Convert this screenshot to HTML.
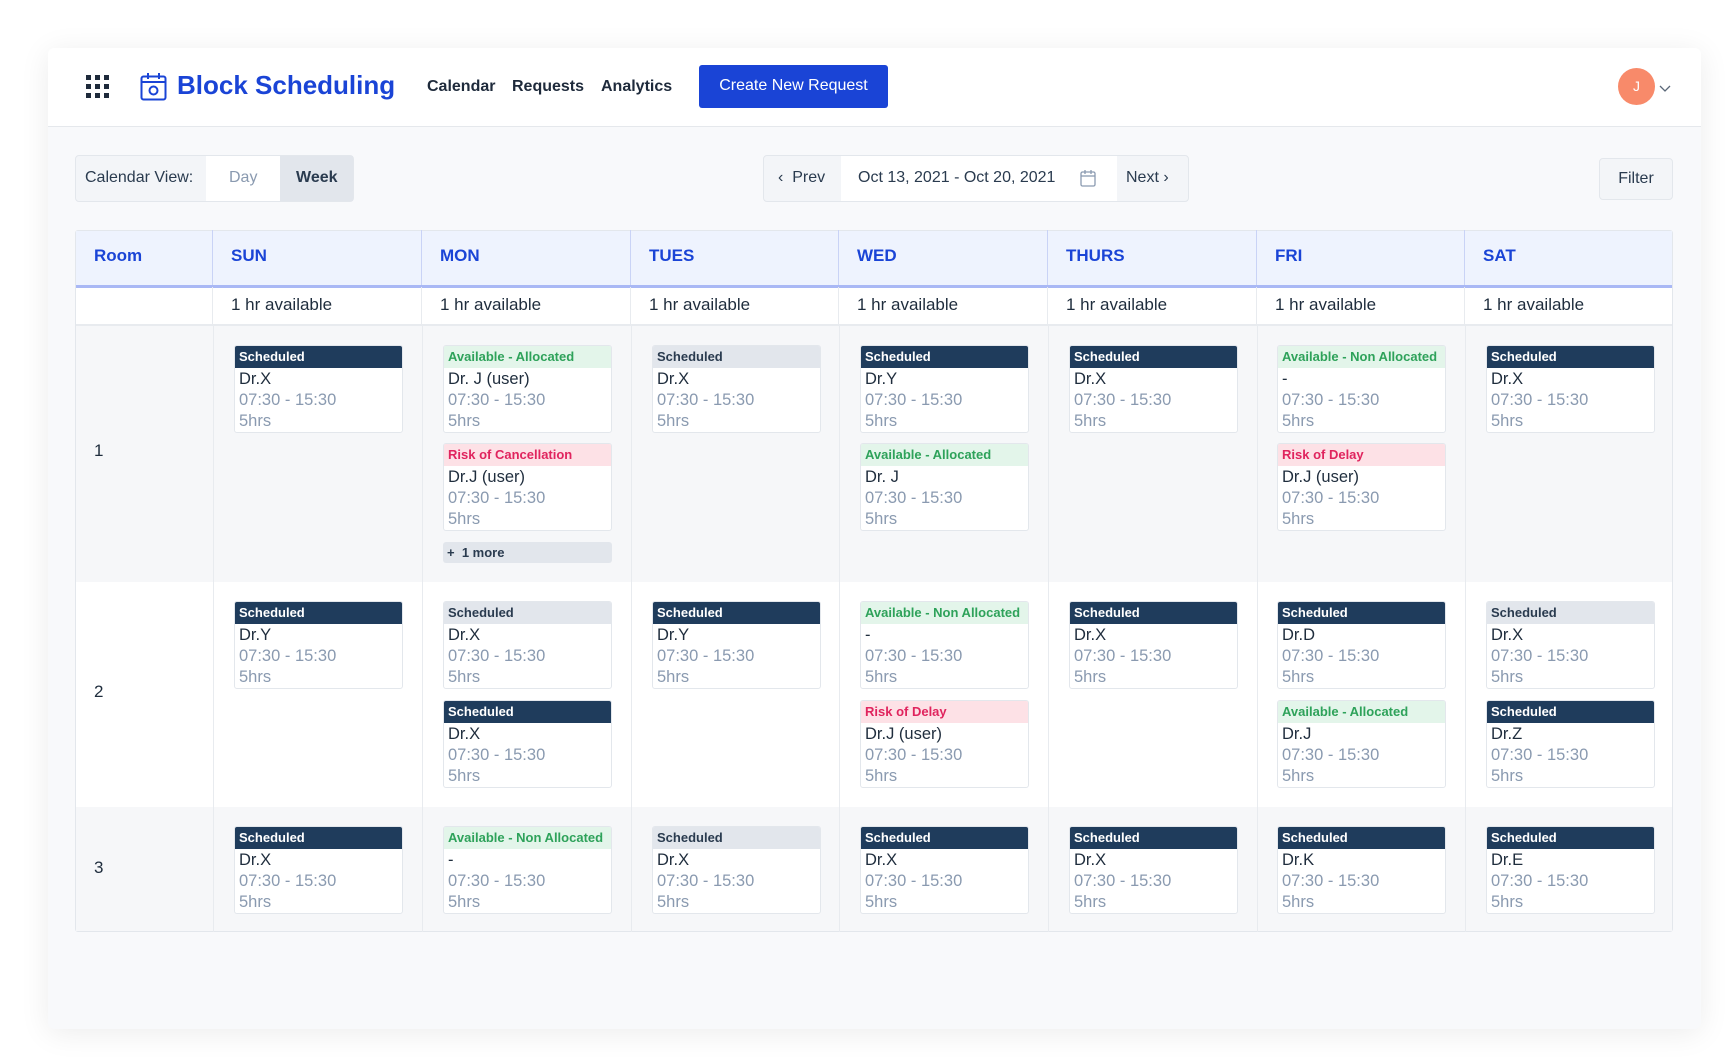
<!DOCTYPE html>
<html><head><meta charset="utf-8"><style>
*{box-sizing:border-box}
body{margin:0;width:1734px;height:1063px;background:#fff;font-family:"Liberation Sans",sans-serif;position:relative;overflow:hidden}
.a{position:absolute}
#card{left:48px;top:48px;width:1653px;height:981px;background:#f8f9fb;border-radius:6px;box-shadow:0 4px 30px rgba(0,0,0,0.08)}
#hdr{left:48px;top:48px;width:1653px;height:79px;background:#fff;border-bottom:1px solid #e5e8ec;border-radius:6px 6px 0 0}
.nav{font-size:16px;font-weight:bold;color:#1e2a3b;top:78px}
.c{position:absolute;width:169px;height:88px;background:#fff;border:1px solid #e3e7ec;border-radius:3px;overflow:hidden}
.h{height:22px;line-height:21px;padding-left:4px;font-size:13px;font-weight:bold}
.d{background:#1f3c5c;color:#fff}.g{background:#e2e6ec;color:#2a3b4f}.gr{background:#e3f5ea;color:#2ea25a}.p{background:#fde1e6;color:#e0245e}
.b{padding:1px 4px 0;font-size:16.5px;line-height:21px;color:#1f2d3d}
.b span{display:block;color:#8a9ab0}
.th{top:230px;height:55px;line-height:51px;font-size:17px;font-weight:bold;color:#1a44d6;padding-left:18px;border-right:1px solid #c9d3f6}
.av{top:287px;height:37px;line-height:35px;font-size:17px;font-weight:500;color:#1f2d3d;padding-left:18px;border-right:1px solid #e8ebef}
.vl{width:1px;background:#e8ebef;top:324px;height:608px}
.rl{font-size:17px;color:#1f2d3d;left:94px}
</style></head><body>
<div class="a" id="card"></div>
<div class="a" id="hdr"></div>
<div class="a" style="left:86px;top:75px;width:26px;height:26px">
<svg width="26" height="26"><g fill="#1e2a3b"><rect x="0" y="0" width="5" height="5"/><rect x="9" y="0" width="5" height="5"/><rect x="18" y="0" width="5" height="5"/><rect x="0" y="9" width="5" height="5"/><rect x="9" y="9" width="5" height="5"/><rect x="18" y="9" width="5" height="5"/><rect x="0" y="18" width="5" height="5"/><rect x="9" y="18" width="5" height="5"/><rect x="18" y="18" width="5" height="5"/></g></svg></div>
<div class="a" style="left:140px;top:72px"><svg width="27" height="29"><rect x="1.5" y="4.5" width="24" height="23" rx="2" fill="none" stroke="#1a44d6" stroke-width="2"/><line x1="1.5" y1="10" x2="25.5" y2="10" stroke="#1a44d6" stroke-width="2"/><line x1="8" y1="1" x2="8" y2="7" stroke="#1a44d6" stroke-width="2"/><line x1="19" y1="1" x2="19" y2="7" stroke="#1a44d6" stroke-width="2"/><circle cx="13.5" cy="18.5" r="4" fill="none" stroke="#1a44d6" stroke-width="2"/></svg></div>
<div class="a" style="left:177px;top:70px;font-size:26px;font-weight:bold;color:#1a44d6">Block Scheduling</div>
<div class="a nav" style="left:427px">Calendar</div>
<div class="a nav" style="left:512px">Requests</div>
<div class="a nav" style="left:601px">Analytics</div>
<div class="a" style="left:699px;top:65px;width:189px;height:43px;background:#1a44d6;border-radius:3px;color:#fff;font-size:16px;text-align:center;line-height:42px">Create New Request</div>
<div class="a" style="left:1618px;top:68px;width:37px;height:37px;border-radius:50%;background:#f88a6a;color:#fff;font-size:14px;text-align:center;line-height:37px">J</div>
<div class="a" style="left:1659px;top:80px"><svg width="12" height="8"><polyline points="1,1 6,6 11,1" fill="none" stroke="#5a6778" stroke-width="1.3"/></svg></div>

<div class="a" style="left:75px;top:155px;width:279px;height:47px;border:1px solid #e3e7ec;border-radius:4px;background:#f3f5f8"></div>
<div class="a" style="left:206px;top:156px;width:74px;height:45px;background:#fff"></div>
<div class="a" style="left:280px;top:156px;width:73px;height:45px;background:#e2e6ec"></div>
<div class="a" style="left:85px;top:169px;font-size:16px;color:#2a3b4f">Calendar View:</div>
<div class="a" style="left:229px;top:169px;font-size:16px;color:#8a9ab0">Day</div>
<div class="a" style="left:296px;top:169px;font-size:16px;font-weight:bold;color:#2a3b4f">Week</div>

<div class="a" style="left:763px;top:155px;width:426px;height:47px;border:1px solid #e3e7ec;border-radius:4px;background:#f3f5f8"></div>
<div class="a" style="left:841px;top:156px;width:276px;height:45px;background:#fff"></div>
<div class="a" style="left:778px;top:169px;font-size:16px;color:#2a3b4f">‹&nbsp; Prev</div>
<div class="a" style="left:858px;top:169px;font-size:16px;color:#2a3b4f">Oct 13, 2021 - Oct 20, 2021</div>
<div class="a" style="left:1080px;top:169px"><svg width="16" height="18"><rect x="1" y="3" width="14" height="14" rx="1.5" fill="none" stroke="#8a9ab0" stroke-width="1.3"/><line x1="1" y1="7" x2="15" y2="7" stroke="#8a9ab0" stroke-width="1.3"/><line x1="5" y1="1" x2="5" y2="5" stroke="#8a9ab0" stroke-width="1.3"/><line x1="11" y1="1" x2="11" y2="5" stroke="#8a9ab0" stroke-width="1.3"/></svg></div>
<div class="a" style="left:1126px;top:169px;font-size:16px;color:#2a3b4f">Next ›</div>
<div class="a" style="left:1599px;top:158px;width:74px;height:42px;border:1px solid #e3e7ec;border-radius:4px;background:#f3f5f8;text-align:center;line-height:40px;font-size:16px;color:#2a3b4f">Filter</div>

<div class="a" style="left:75px;top:230px;width:1598px;height:702px;border:1px solid #e3e7ec;border-radius:3px;background:#fff"></div>
<div class="a" style="left:76px;top:231px;width:1596px;height:54px;background:#eef3fe"></div>
<div class="a" style="left:76px;top:285px;width:1596px;height:3px;background:#a9b8f5"></div>
<div class="a" style="left:76px;top:324px;width:1596px;height:3px;background:#e8ebef"></div>
<div class="a" style="left:76px;top:326px;width:1596px;height:256px;background:#f6f7f9"></div>
<div class="a" style="left:76px;top:807px;width:1596px;height:124px;background:#f6f7f9"></div>
<div class="a th" style="left:76px;width:137px">Room</div>
<div class="a th" style="left:213px;width:209px">SUN</div>
<div class="a th" style="left:422px;width:209px">MON</div>
<div class="a th" style="left:631px;width:208px">TUES</div>
<div class="a th" style="left:839px;width:209px">WED</div>
<div class="a th" style="left:1048px;width:209px">THURS</div>
<div class="a th" style="left:1257px;width:208px">FRI</div>
<div class="a th" style="left:1465px;width:207px;border-right:none">SAT</div>
<div class="a av" style="left:76px;width:137px"></div>
<div class="a av" style="left:213px;width:209px">1 hr available</div>
<div class="a av" style="left:422px;width:209px">1 hr available</div>
<div class="a av" style="left:631px;width:208px">1 hr available</div>
<div class="a av" style="left:839px;width:209px">1 hr available</div>
<div class="a av" style="left:1048px;width:209px">1 hr available</div>
<div class="a av" style="left:1257px;width:208px">1 hr available</div>
<div class="a av" style="left:1465px;width:207px;border-right:none">1 hr available</div>
<div class="a vl" style="left:213px"></div><div class="a vl" style="left:422px"></div><div class="a vl" style="left:631px"></div><div class="a vl" style="left:839px"></div><div class="a vl" style="left:1048px"></div><div class="a vl" style="left:1257px"></div><div class="a vl" style="left:1465px"></div>
<div class="a rl" style="top:441px">1</div>
<div class="a rl" style="top:682px">2</div>
<div class="a rl" style="top:858px">3</div>

<div class="c" style="left:234px;top:345px"><div class="h d">Scheduled</div><div class="b">Dr.X<span>07:30 - 15:30</span><span>5hrs</span></div></div>
<div class="c" style="left:443px;top:345px"><div class="h gr">Available - Allocated</div><div class="b">Dr. J (user)<span>07:30 - 15:30</span><span>5hrs</span></div></div>
<div class="c" style="left:443px;top:443px"><div class="h p">Risk of Cancellation</div><div class="b">Dr.J (user)<span>07:30 - 15:30</span><span>5hrs</span></div></div>
<div class="a" style="left:443px;top:542px;width:169px;height:21px;background:#e2e6ec;border-radius:3px;font-size:13px;font-weight:bold;color:#2a3b4f;line-height:21px;padding-left:4px">+ &nbsp;1 more</div>
<div class="c" style="left:652px;top:345px"><div class="h g">Scheduled</div><div class="b">Dr.X<span>07:30 - 15:30</span><span>5hrs</span></div></div>
<div class="c" style="left:860px;top:345px"><div class="h d">Scheduled</div><div class="b">Dr.Y<span>07:30 - 15:30</span><span>5hrs</span></div></div>
<div class="c" style="left:860px;top:443px"><div class="h gr">Available - Allocated</div><div class="b">Dr. J<span>07:30 - 15:30</span><span>5hrs</span></div></div>
<div class="c" style="left:1069px;top:345px"><div class="h d">Scheduled</div><div class="b">Dr.X<span>07:30 - 15:30</span><span>5hrs</span></div></div>
<div class="c" style="left:1277px;top:345px"><div class="h gr">Available - Non Allocated</div><div class="b">-<span>07:30 - 15:30</span><span>5hrs</span></div></div>
<div class="c" style="left:1277px;top:443px"><div class="h p">Risk of Delay</div><div class="b">Dr.J (user)<span>07:30 - 15:30</span><span>5hrs</span></div></div>
<div class="c" style="left:1486px;top:345px"><div class="h d">Scheduled</div><div class="b">Dr.X<span>07:30 - 15:30</span><span>5hrs</span></div></div>

<div class="c" style="left:234px;top:601px"><div class="h d">Scheduled</div><div class="b">Dr.Y<span>07:30 - 15:30</span><span>5hrs</span></div></div>
<div class="c" style="left:443px;top:601px"><div class="h g">Scheduled</div><div class="b">Dr.X<span>07:30 - 15:30</span><span>5hrs</span></div></div>
<div class="c" style="left:443px;top:700px"><div class="h d">Scheduled</div><div class="b">Dr.X<span>07:30 - 15:30</span><span>5hrs</span></div></div>
<div class="c" style="left:652px;top:601px"><div class="h d">Scheduled</div><div class="b">Dr.Y<span>07:30 - 15:30</span><span>5hrs</span></div></div>
<div class="c" style="left:860px;top:601px"><div class="h gr">Available - Non Allocated</div><div class="b">-<span>07:30 - 15:30</span><span>5hrs</span></div></div>
<div class="c" style="left:860px;top:700px"><div class="h p">Risk of Delay</div><div class="b">Dr.J (user)<span>07:30 - 15:30</span><span>5hrs</span></div></div>
<div class="c" style="left:1069px;top:601px"><div class="h d">Scheduled</div><div class="b">Dr.X<span>07:30 - 15:30</span><span>5hrs</span></div></div>
<div class="c" style="left:1277px;top:601px"><div class="h d">Scheduled</div><div class="b">Dr.D<span>07:30 - 15:30</span><span>5hrs</span></div></div>
<div class="c" style="left:1277px;top:700px"><div class="h gr">Available - Allocated</div><div class="b">Dr.J<span>07:30 - 15:30</span><span>5hrs</span></div></div>
<div class="c" style="left:1486px;top:601px"><div class="h g">Scheduled</div><div class="b">Dr.X<span>07:30 - 15:30</span><span>5hrs</span></div></div>
<div class="c" style="left:1486px;top:700px"><div class="h d">Scheduled</div><div class="b">Dr.Z<span>07:30 - 15:30</span><span>5hrs</span></div></div>

<div class="c" style="left:234px;top:826px"><div class="h d">Scheduled</div><div class="b">Dr.X<span>07:30 - 15:30</span><span>5hrs</span></div></div>
<div class="c" style="left:443px;top:826px"><div class="h gr">Available - Non Allocated</div><div class="b">-<span>07:30 - 15:30</span><span>5hrs</span></div></div>
<div class="c" style="left:652px;top:826px"><div class="h g">Scheduled</div><div class="b">Dr.X<span>07:30 - 15:30</span><span>5hrs</span></div></div>
<div class="c" style="left:860px;top:826px"><div class="h d">Scheduled</div><div class="b">Dr.X<span>07:30 - 15:30</span><span>5hrs</span></div></div>
<div class="c" style="left:1069px;top:826px"><div class="h d">Scheduled</div><div class="b">Dr.X<span>07:30 - 15:30</span><span>5hrs</span></div></div>
<div class="c" style="left:1277px;top:826px"><div class="h d">Scheduled</div><div class="b">Dr.K<span>07:30 - 15:30</span><span>5hrs</span></div></div>
<div class="c" style="left:1486px;top:826px"><div class="h d">Scheduled</div><div class="b">Dr.E<span>07:30 - 15:30</span><span>5hrs</span></div></div>
</body></html>
